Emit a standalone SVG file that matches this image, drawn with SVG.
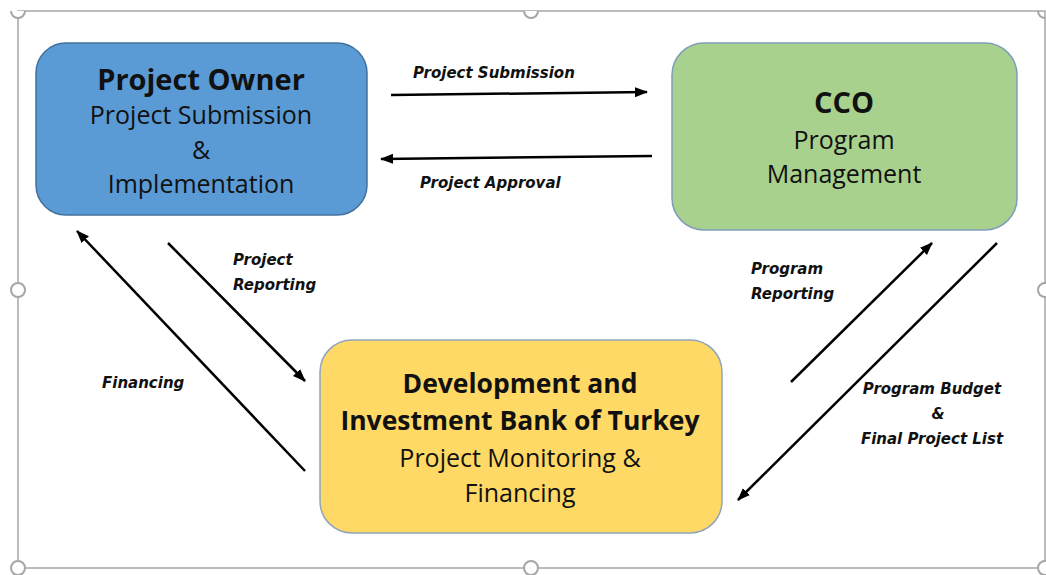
<svg xmlns="http://www.w3.org/2000/svg" width="1046" height="575" viewBox="0 0 1046 575">
<style>
.frame{fill:none;stroke:#a6a6a6;stroke-width:1.5}
.handle{fill:#fff;stroke:#a6a6a6;stroke-width:2}
.box{stroke-width:1.5}
.title{font-family:"Open Sans",sans-serif;font-weight:bold;font-size:29px;fill:#111;text-anchor:middle}
.title2{font-family:"Open Sans",sans-serif;font-weight:bold;font-size:26.5px;fill:#111;text-anchor:middle}
.sub{font-family:"Open Sans",sans-serif;font-size:25px;fill:#111;text-anchor:middle}
.lbl{font-family:"DejaVu Sans",sans-serif;font-weight:bold;font-style:italic;font-size:15px;fill:#111}
.conn{stroke:#000;stroke-width:2.5;fill:none;marker-end:url(#ah)}
</style>
<defs>
<marker id="ah" markerUnits="userSpaceOnUse" markerWidth="14" markerHeight="12" refX="12" refY="5" orient="auto">
<path d="M0,0 L13,5 L0,10 z" fill="#000"/>
</marker>
</defs>
<rect width="1046" height="575" fill="#fff"/>
<g id="frame">
<rect class="frame" x="18" y="11" width="1027" height="557"/>
<path class="handle" d="M11,11 A7,7 0 0 0 25,11"/>
<path class="handle" d="M524,11 A7,7 0 0 0 538,11"/>
<path class="handle" d="M1038,11 A7,7 0 0 0 1045,18"/>
<circle class="handle" cx="18" cy="290" r="7"/>
<circle class="handle" cx="1045" cy="290" r="7"/>
<circle class="handle" cx="18" cy="568" r="7"/>
<circle class="handle" cx="531" cy="568" r="7"/>
<circle class="handle" cx="1045" cy="568" r="7"/>
</g>
<g id="connectors">
<line class="conn" x1="391" y1="95" x2="647" y2="92"/>
<line class="conn" x1="652" y1="156" x2="381" y2="159"/>
<line class="conn" x1="305" y1="471" x2="77" y2="231"/>
<line class="conn" x1="168" y1="243" x2="305" y2="381"/>
<line class="conn" x1="791" y1="382" x2="932" y2="243"/>
<line class="conn" x1="997" y1="243" x2="738" y2="500"/>
<text class="lbl" x="413" y="78">Project Submission</text>
<text class="lbl" x="420" y="188">Project Approval</text>
<text class="lbl" x="233" y="265">Project</text>
<text class="lbl" x="233" y="290">Reporting</text>
<text class="lbl" x="102" y="388">Financing</text>
<text class="lbl" x="751" y="274">Program</text>
<text class="lbl" x="751" y="299">Reporting</text>
<text class="lbl" x="932" y="394" text-anchor="middle">Program Budget</text>
<text class="lbl" x="938" y="419" text-anchor="middle">&amp;</text>
<text class="lbl" x="932" y="444" text-anchor="middle">Final Project List</text>
</g>
<g id="project-owner">
<rect class="box" x="36" y="43" width="331" height="172" rx="30" fill="#5b9bd5" stroke="#41719c"/>
<text class="title" x="201" y="90">Project Owner</text>
<text class="sub" x="201" y="124">Project Submission</text>
<text class="sub" x="201" y="159">&amp;</text>
<text class="sub" x="201" y="193">Implementation</text>
</g>
<g id="cco">
<rect class="box" x="672" y="43" width="345" height="187" rx="32" fill="#a9d18e" stroke="#7f9db9"/>
<text class="title" x="844" y="113">CCO</text>
<text class="sub" x="844" y="149">Program</text>
<text class="sub" x="844" y="183">Management</text>
</g>
<g id="bank">
<rect class="box" x="320" y="340" width="402" height="193" rx="32" fill="#ffd966" stroke="#8fa5bd"/>
<text class="title2" x="520" y="393">Development and</text>
<text class="title2" x="520" y="430">Investment Bank of Turkey</text>
<text class="sub" x="520" y="467">Project Monitoring &amp;</text>
<text class="sub" x="520" y="502">Financing</text>
</g>
</svg>
